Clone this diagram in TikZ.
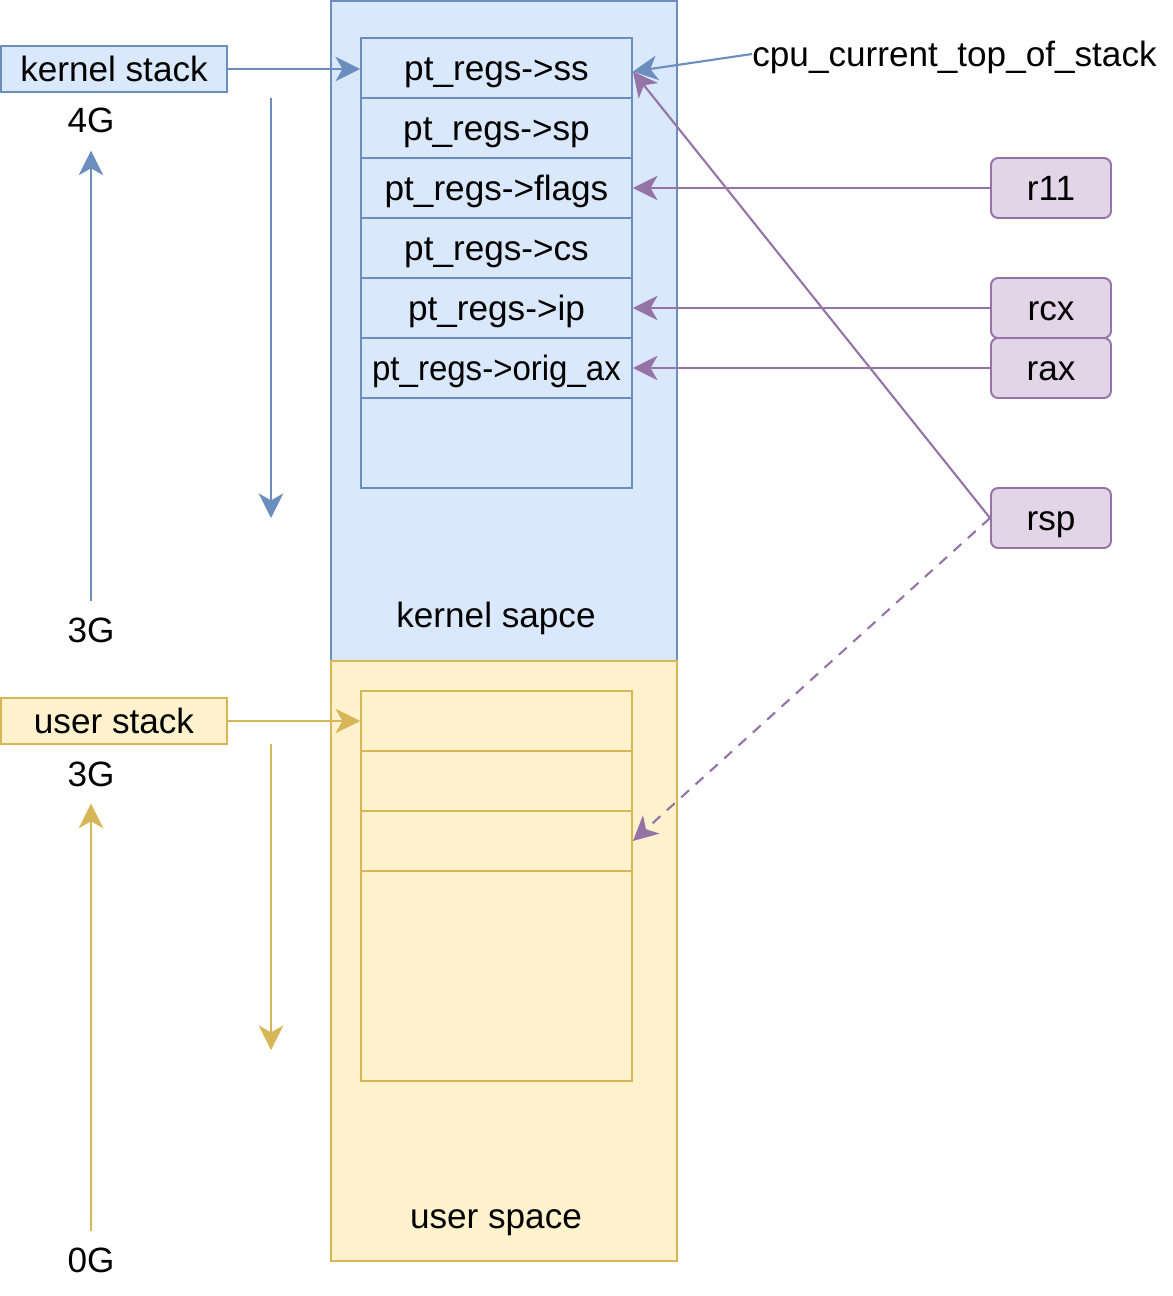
\documentclass[tikz,border=0pt]{standalone}
\usepackage{fontspec}
\setmainfont{Liberation Sans}
\usetikzlibrary{arrows.meta,positioning}
\definecolor{kfill}{HTML}{DAE8FC}
\definecolor{kline}{HTML}{6C8EBF}
\definecolor{ufill}{HTML}{FFF2CC}
\definecolor{uline}{HTML}{D6B656}
\definecolor{rfill}{HTML}{E1D5E7}
\definecolor{rline}{HTML}{9673A6}

\begin{document}
\begin{tikzpicture}[x=0.02cm, y=-0.02cm,
          every node/.style={font=\fontsize{20}{24}\selectfont, inner sep=0pt, text height=18pt, text depth=4pt},
          area/.style={draw=#1line, fill=#1fill, line width=1.1pt, minimum width=6.92cm},
          cell/.style={draw=#1line, fill=#1fill, line width=1.1pt, minimum width=5.42cm, minimum height=1.2cm},
          stackbox/.style={draw=#1line, fill=#1fill, line width=1.1pt, minimum width=4.52cm, minimum height=0.92cm},
          reg/.style={draw=rline, fill=rfill, line width=1.1pt, rounded corners=4pt, minimum width=2.4cm, minimum height=1.2cm},
          link/.style={->, line width=1.2pt, >={Stealth[length=14pt,width=14pt,inset=4pt]}, draw=#1}
      ]
        \useasboundingbox (0,0) rectangle (1173,1296);
        % the two address spaces
        \node[area=k, minimum height=13.2cm] (kspace) at (504,331) {};
        \node[area=u, minimum height=12cm]   (uspace) at (504,961) {};
        \node (klabel) at (496,615) {kernel sapce};
        \node (ulabel) at (496,1216) {user space};
        % kernel stack cells
        \node[cell=k] (ss)     at (496.5,68)  {pt\_regs->ss};
        \node[cell=k] (sp)     at (496.5,128) {pt\_regs->sp};
        \node[cell=k] (flags)  at (496.5,188) {pt\_regs->flags};
        \node[cell=k] (cs)     at (496.5,248) {pt\_regs->cs};
        \node[cell=k] (ip)     at (496.5,308) {pt\_regs->ip};
        \node[cell=k] (origax) at (496.5,368) {\scalebox{0.94}[1]{pt\_regs->orig\_ax}};
        \node[cell=k, minimum height=1.8cm] (kfree) at (496.5,443) {};
        % user stack cells
        \node[cell=u] (u1) at (496.5,721) {};
        \node[cell=u] (u2) at (496.5,781) {};
        \node[cell=u] (u3) at (496.5,841) {};
        \node[cell=u, minimum height=4.2cm] (ufree) at (496.5,976) {};
        % left side
        \node[stackbox=k] (kstack) at (114,69)  {kernel stack};
        \node[stackbox=u] (ustack) at (114,721) {user stack};
        \node (k4g) at (91,120)  {4G};
        \node (k3g) at (91,630)  {3G};
        \node (u3g) at (91,774)  {3G};
        \node (u0g) at (91,1260) {0G};
        \coordinate (kdowntop) at (271,98);
        \coordinate (kdownend) at (271,518);
        \coordinate (udowntop) at (271,744);
        \coordinate (udownend) at (271,1050);
        % right side
        \node[anchor=west] (cpu) at (752,54) {cpu\_current\_top\_of\_stack};
        \node[reg] (r11) at (1051,188) {r11};
        \node[reg] (rcx) at (1051,308) {rcx};
        \node[reg] (rax) at (1051,368) {rax};
        \node[reg] (rsp) at (1051,518) {rsp};
        % connectors
        \draw[link=kline] (kstack) -- (kstack -| ss.west);
        \draw[link=uline] (ustack) -- (u1.west);
        \draw[link=kline, shorten <=0.18cm, shorten >=0.22cm] (k3g.north) -- (k4g.south);
        \draw[link=uline, shorten <=0.18cm, shorten >=0.2cm] (u0g.north) -- (u3g.south);
        \draw[link=kline] (kdowntop) -- (kdownend);
        \draw[link=uline] (udowntop) -- (udownend);
        \draw[link=kline] (cpu.west) -- ([yshift=-2pt]ss.east);
        \draw[link=rline] (r11) -- (flags.east);
        \draw[link=rline] (rcx) -- (ip.east);
        \draw[link=rline] (rax) -- (origax.east);
        \draw[link=rline] (rsp.west) -- ([yshift=-2pt]ss.east);
        \draw[link=rline, dashed, dash pattern=on 6pt off 5pt] (rsp.west) -- (u3.east);
      \end{tikzpicture}
\end{document}
